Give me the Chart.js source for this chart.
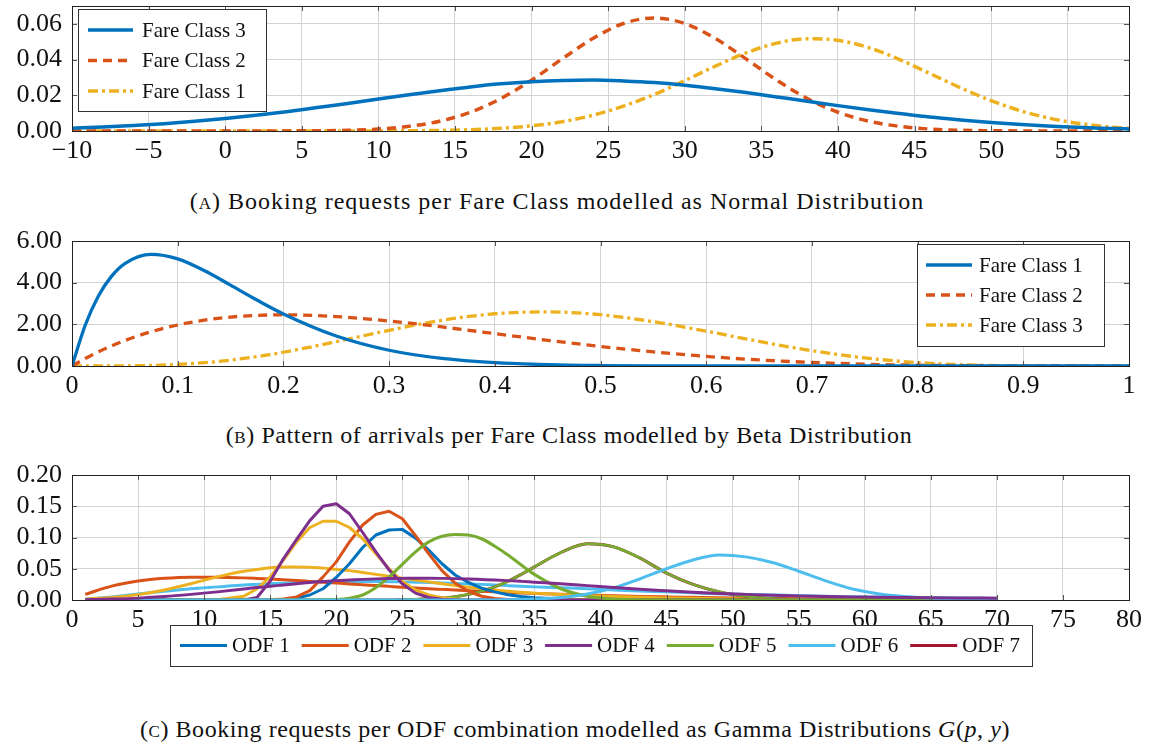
<!DOCTYPE html>
<html>
<head>
<meta charset="utf-8">
<script src="https://cdn.jsdelivr.net/npm/chart.js@4.4.1/dist/chart.umd.min.js"></script>
<style>
body { margin: 0; background: #fff; width: 1154px; height: 748px; position: relative; overflow: hidden; font-family: "Liberation Serif", serif; }
canvas { position: absolute; left: 0; }
.cap { position: absolute; width: 1154px; text-align: center; font-size: 24px; color: #111; letter-spacing: 0.8px; }
.sc { font-variant: small-caps; }
</style>
</head>
<body>
<canvas id="chartA" width="1154" height="171" style="top:0px"></canvas>
<div class="cap" style="top:188px; left:-20px; letter-spacing:1px">(<span class="sc">a</span>) Booking requests per Fare Class modelled as Normal Distribution</div>
<canvas id="chartB" width="1154" height="185" style="top:221px"></canvas>
<div class="cap" style="top:422px; left:-8px; letter-spacing:0.6px">(<span class="sc">b</span>) Pattern of arrivals per Fare Class modelled by Beta Distribution</div>
<canvas id="chartC" width="1154" height="215" style="top:455px"></canvas>
<div class="cap" style="top:716px; left:-2px; letter-spacing:0.55px">(<span class="sc">c</span>) Booking requests per ODF combination modelled as Gamma Distributions <i>G</i>(<i>p</i>, <i>y</i>)</div>

<script>
// (A) normal distributions
var aX = [-10,-8,-6,-4,-2,0,2,4,6,8,10,12,14,16,18,20,22,24,26,28,30,32,34,36,38,40,42,44,46,48,50,52,54,56,58,59];
var aFare3 = [0.0016,0.0023,0.0031,0.0041,0.0054,0.0070,0.0088,0.0108,0.0131,0.0154,0.0179,0.0203,0.0226,0.0247,0.0264,0.0276,0.0283,0.0285,0.0280,0.0271,0.0256,0.0237,0.0215,0.0191,0.0167,0.0142,0.0119,0.0098,0.0078,0.0062,0.0048,0.0036,0.0027,0.0019,0.0014,0.0011];
var aFare2 = [0,0,0,0,0,0,0,0.00005,0.00015,0.0004,0.0011,0.0026,0.0055,0.0105,0.0182,0.0285,0.0404,0.0518,0.0602,0.0633,0.0602,0.0518,0.0404,0.0285,0.0182,0.0105,0.0055,0.0026,0.0011,0.0004,0.00015,0.00005,0,0,0,0];
var aFare1 = [0,0,0,0,0,0,0,0,0,0,0.00006,0.00014,0.00033,0.0007,0.0015,0.0029,0.0052,0.0088,0.0139,0.0204,0.0282,0.0363,0.0437,0.0492,0.0517,0.0508,0.0467,0.0401,0.0322,0.0242,0.0170,0.0111,0.0068,0.0039,0.0021,0.0015];

// (B) beta distributions
var bX = [0,0.0125,0.025,0.0375,0.05,0.075,0.1,0.125,0.15,0.175,0.2,0.25,0.3,0.35,0.4,0.45,0.5,0.55,0.6,0.65,0.7,0.75,0.8,0.85,0.9,0.95,1];
var bFare1 = [0,1.956,3.358,4.314,4.918,5.356,5.14,4.582,3.882,3.166,2.501,1.441,0.756,0.363,0.159,0.063,0.022,0.007,0.002,0.0004,0,0,0,0,0,0,0];
var bFare2 = [0,0.357,0.678,0.966,1.222,1.647,1.968,2.198,2.349,2.432,2.458,2.373,2.161,1.874,1.555,1.235,0.938,0.677,0.461,0.293,0.17,0.088,0.038,0.013,0.003,0.0002,0];
var bFare3 = [0,0,0.0004,0.002,0.006,0.027,0.074,0.158,0.283,0.452,0.66,1.168,1.715,2.193,2.508,2.6,2.461,2.128,1.672,1.181,0.735,0.389,0.165,0.05,0.008,0.0003,0];

// (C) gamma distributions
var cX = [1,3,5,7,9,11,13,14,15,16,17,18,19,20,21,22,23,24,25,26,27,28,29,30,31,32,33,34,35,37,39,41,43,45,47,49,51,53,55,57,59,61,63,65,67,70];
var odf1 = [0,0,0,0,0,0,0,0,0,0.001,0.003,0.008,0.018,0.036,0.058,0.084,0.104,0.112,0.113,0.099,0.08,0.058,0.04,0.028,0.019,0.013,0.0085,0.0055,0.0035,0.0015,0.0006,0.0002,0,0,0,0,0,0,0,0,0,0,0,0,0,0];
var odf2 = [0,0,0,0,0,0,0,0,0.0005,0.0015,0.005,0.015,0.037,0.061,0.093,0.12,0.137,0.142,0.13,0.103,0.074,0.047,0.027,0.014,0.006,0.0025,0.001,0.0004,0.0001,0,0,0,0,0,0,0,0,0,0,0,0,0,0,0,0,0];
var odf3 = [0,0,0,0,0,0.0005,0.006,0.018,0.037,0.064,0.093,0.116,0.126,0.126,0.116,0.098,0.074,0.05,0.03,0.016,0.008,0.0035,0.0015,0.0005,0.0002,0,0,0,0,0,0,0,0,0,0,0,0,0,0,0,0,0,0,0,0,0];
var odf4 = [0,0,0,0,0,0,0,0.004,0.03,0.066,0.097,0.127,0.15,0.154,0.138,0.108,0.077,0.048,0.026,0.011,0.004,0.0012,0.0003,0,0,0,0,0,0,0,0,0,0,0,0,0,0,0,0,0,0,0,0,0,0,0];
var odf5 = [0,0,0,0,0,0,0,0,0,0,0,0,0.0005,0.001,0.003,0.008,0.02,0.037,0.057,0.077,0.093,0.102,0.105,0.104,0.098,0.086,0.072,0.056,0.041,0.018,0.006,0.0015,0.0004,0,0,0,0,0,0,0,0,0,0,0,0,0];
var odf6 = [0,0,0,0,0,0,0,0,0,0,0,0,0,0,0,0,0,0,0,0,0,0,0,0,0.0001,0.0002,0.0004,0.0008,0.0015,0.004,0.0095,0.0195,0.034,0.05,0.064,0.072,0.069,0.06,0.046,0.031,0.018,0.01,0.0055,0.003,0.0015,0.0005];
var odf7 = [0,0,0,0,0,0,0,0,0,0,0,0,0,0,0,0,0,0,0.0005,0.001,0.002,0.003,0.0054,0.009,0.014,0.021,0.03,0.041,0.053,0.076,0.09,0.085,0.067,0.043,0.025,0.013,0.006,0.0025,0.001,0.0004,0,0,0,0,0,0];
var wideOrange = [0.009,0.0222,0.0303,0.0348,0.0366,0.0366,0.0354,0.0345,0.0335,0.0323,0.0311,0.0298,0.0285,0.0271,0.0257,0.0244,0.0231,0.0218,0.0205,0.0193,0.0181,0.017,0.0159,0.0149,0.014,0.013,0.0122,0.0113,0.0106,0.0092,0.0079,0.0068,0.0058,0.005,0.0043,0.0036,0.0031,0.0026,0.0022,0.0019,0.0016,0.0014,0.0012,0.001,0.0008,0.0006];
var wideYellow = [0.0016,0.004,0.0086,0.016,0.026,0.037,0.046,0.049,0.0515,0.0527,0.053,0.0525,0.051,0.049,0.047,0.044,0.041,0.038,0.035,0.032,0.029,0.026,0.023,0.0205,0.018,0.016,0.014,0.0125,0.011,0.0088,0.007,0.0055,0.0043,0.0034,0.0027,0.0021,0.0016,0.0012,0.001,0.0008,0.0006,0.0005,0.0004,0.0003,0.0003,0.0002];
var wideLightBlue = [0.001,0.005,0.0095,0.014,0.018,0.021,0.024,0.025,0.026,0.027,0.0278,0.0285,0.029,0.0293,0.0295,0.0296,0.0295,0.0293,0.029,0.0285,0.028,0.0273,0.0265,0.0258,0.025,0.024,0.023,0.022,0.021,0.0195,0.018,0.016,0.0145,0.013,0.0115,0.01,0.009,0.008,0.007,0.006,0.0053,0.0047,0.0041,0.0036,0.0032,0.0027];
var widePurple = [0.0005,0.0015,0.003,0.0055,0.009,0.013,0.0175,0.02,0.022,0.024,0.026,0.028,0.0295,0.031,0.032,0.033,0.0338,0.0343,0.0346,0.0348,0.0348,0.0346,0.0342,0.0336,0.0328,0.032,0.031,0.0298,0.0285,0.026,0.023,0.02,0.0172,0.0148,0.0125,0.0105,0.009,0.0077,0.0066,0.0057,0.005,0.0044,0.0039,0.0035,0.0032,0.0029];

var blue = '#0072BD', orange = '#D95319', yellow = '#EDB120', purple = '#7E2F8E';
var green = '#77AC30', lightBlue = '#4DBEEE', darkRed = '#A2142F';
var serif = '"Liberation Serif", "Times New Roman", serif';

Chart.defaults.font.family = serif;
Chart.defaults.color = '#111';
Chart.defaults.animation = false;

function pts(xs, ys) {
    return xs.map(function (x, i) { return { x: x, y: ys[i] }; });
}

// box around the plot with the little inward ticks
var framePlugin = {
    id: 'frame',
    afterDraw: function (chart) {
        var ctx = chart.ctx, a = chart.chartArea;
        var xs = chart.scales.x, ys = chart.scales.y;
        ctx.save();
        ctx.strokeStyle = '#555';
        ctx.lineWidth = 1;
        ctx.beginPath();
        xs.ticks.forEach(function (t) {
            var px = Math.round(xs.getPixelForValue(t.value)) + 0.5;
            ctx.moveTo(px, a.top); ctx.lineTo(px, a.top + 5);
            ctx.moveTo(px, a.bottom); ctx.lineTo(px, a.bottom - 5);
        });
        ys.ticks.forEach(function (t) {
            var py = Math.round(ys.getPixelForValue(t.value)) + 0.5;
            ctx.moveTo(a.left, py); ctx.lineTo(a.left + 5, py);
            ctx.moveTo(a.right, py); ctx.lineTo(a.right - 5, py);
        });
        ctx.stroke();
        ctx.strokeStyle = '#222';
        ctx.strokeRect(Math.round(a.left) + 0.5, Math.round(a.top) + 0.5, Math.round(a.right - a.left), Math.round(a.bottom - a.top));
        ctx.restore();
    }
};

// legend drawn as a framed box (inside the plot for A and B, under the axis for C)
var boxLegend = {
    id: 'boxLegend',
    afterDraw: function (chart, args, o) {
        var ctx = chart.ctx;
        var items = chart.data.datasets.filter(function (d) { return d.label; });
        if (o.sort) items = items.slice().sort(function (p, q) { return p.label < q.label ? -1 : 1; });
        ctx.save();
        ctx.fillStyle = '#fff';
        ctx.fillRect(o.left, o.top, o.width, o.height);
        ctx.strokeStyle = '#333';
        ctx.lineWidth = 1;
        ctx.strokeRect(o.left + 0.5, o.top + 0.5, o.width, o.height);
        ctx.font = o.size + 'px ' + serif;
        ctx.textBaseline = 'middle';
        items.forEach(function (d, i) {
            var x = o.left + o.padX, y = o.top + o.padY;
            if (o.horizontal) x += i * o.step; else y += i * o.step;
            ctx.beginPath();
            ctx.setLineDash(d.borderDash || []);
            ctx.strokeStyle = d.borderColor;
            ctx.lineWidth = d.borderWidth;
            ctx.moveTo(x, y);
            ctx.lineTo(x + o.sample, y);
            ctx.stroke();
            ctx.setLineDash([]);
            ctx.fillStyle = '#111';
            ctx.fillText(d.label, x + o.sample + o.gap, y + 1);
        });
        ctx.restore();
    }
};

function fixY(w) {
    return function (s) { s.width = w; s.paddingTop = 0; s.paddingBottom = 0; };
}
function fixX(h) {
    return function (s) { s.height = h; s.paddingLeft = 0; s.paddingRight = 0; };
}

function axes(xmin, xmax, xstep, xfmt, ymax, ystep, yfmt) {
    var grid = { color: '#d3d3d3', lineWidth: 1, drawTicks: false };
    return {
        x: {
            type: 'linear', min: xmin, max: xmax,
            border: { display: false }, grid: grid,
            ticks: { stepSize: xstep, includeBounds: false, padding: 5, font: { size: 26 }, maxRotation: 0, autoSkip: false, callback: xfmt },
            afterFit: fixX(40)
        },
        y: {
            min: 0, max: ymax,
            border: { display: false }, grid: grid,
            ticks: { stepSize: ystep, includeBounds: false, padding: 10, font: { size: 26 }, autoSkip: false, callback: yfmt },
            afterFit: fixY(72)
        }
    };
}

function curve(label, color, xs, ys, w, dash, smooth) {
    return {
        label: label, data: pts(xs, ys), borderColor: color, borderWidth: w,
        borderDash: dash || [], pointRadius: 0, fill: false, borderJoinStyle: 'round',
        cubicInterpolationMode: smooth ? 'monotone' : 'default', tension: 0
    };
}

function twoDec(v) { return v.toFixed(2); }

function chartA() {
    var ctx = document.getElementById('chartA').getContext('2d');
    new Chart(ctx, {
        type: 'line',
        data: {
            datasets: [
                curve('Fare Class 3', blue, aX, aFare3, 3.5, [], true),
                curve('Fare Class 2', orange, aX, aFare2, 3.5, [9, 6], true),
                curve('Fare Class 1', yellow, aX, aFare1, 3.5, [10, 4, 3, 4], true)
            ]
        },
        options: {
            responsive: false, devicePixelRatio: 1,
            layout: { padding: { top: 6, right: 25, left: 0, bottom: 0 } },
            scales: axes(-10, 59, 5, function (v) { return v < 0 ? '\u2212' + Math.abs(v) : String(v); }, 0.07, 0.02, twoDec),
            plugins: {
                legend: { display: false }, tooltip: { enabled: false },
                boxLegend: { left: 78, top: 9, width: 188, height: 102, padX: 10, padY: 21, step: 30.5, sample: 45, gap: 9, size: 21 }
            }
        },
        plugins: [framePlugin, boxLegend]
    });
}
chartA()

function chartB() {
    var ctx = document.getElementById('chartB').getContext('2d');
    new Chart(ctx, {
        type: 'line',
        data: {
            datasets: [
                curve('Fare Class 1', blue, bX, bFare1, 3.3, [], true),
                curve('Fare Class 2', orange, bX, bFare2, 3.3, [9, 6], true),
                curve('Fare Class 3', yellow, bX, bFare3, 3.3, [10, 4, 3, 4], true)
            ]
        },
        options: {
            responsive: false, devicePixelRatio: 1,
            layout: { padding: { top: 20, right: 25, left: 0, bottom: 0 } },
            scales: axes(0, 1, 0.1, function (v) {
                var r = Math.round(v * 10) / 10;
                return (r === 0 || r === 1) ? String(r) : r.toFixed(1);
            }, 6, 2, twoDec),
            plugins: {
                legend: { display: false }, tooltip: { enabled: false },
                boxLegend: { left: 917, top: 23, width: 187, height: 102, padX: 9, padY: 21, step: 30, sample: 46, gap: 7, size: 21 }
            }
        },
        plugins: [framePlugin, boxLegend]
    });
}
chartB()

function chartC() {
    var ctx = document.getElementById('chartC').getContext('2d');
    // listed bottom to top
    var sets = [
        curve('', lightBlue, cX, wideLightBlue, 3, [], true),
        curve('', orange, cX, wideOrange, 3, [], true),
        curve('', yellow, cX, wideYellow, 3, [], true),
        curve('ODF 7', darkRed, cX, odf7, 3, [], true),
        curve('', green, cX, odf7, 2.6, [], true),
        curve('ODF 1', blue, cX, odf1, 3, [], false),
        curve('ODF 2', orange, cX, odf2, 3, [], false),
        curve('ODF 3', yellow, cX, odf3, 3, [], false),
        curve('ODF 4', purple, cX, odf4, 3, [], false),
        curve('ODF 5', green, cX, odf5, 3, [], true),
        curve('ODF 6', lightBlue, cX, odf6, 3, [], true),
        curve('', purple, cX, widePurple, 3, [], true)
    ];
    sets.forEach(function (d, i) { d.order = sets.length - i; });
    new Chart(ctx, {
        type: 'line',
        data: { datasets: sets },
        options: {
            responsive: false, devicePixelRatio: 1,
            layout: { padding: { top: 20, right: 25, left: 0, bottom: 30 } },
            scales: axes(0, 80, 5, function (v) { return String(v); }, 0.2, 0.05, twoDec),
            plugins: {
                legend: { display: false }, tooltip: { enabled: false },
                boxLegend: { left: 170, top: 170, width: 862, height: 41, padX: 10, padY: 20.5, step: 121.7, sample: 47, gap: 5, size: 21, horizontal: true, sort: true }
            }
        },
        plugins: [framePlugin, boxLegend]
    });
}
chartC()
</script>
</body>
</html>
